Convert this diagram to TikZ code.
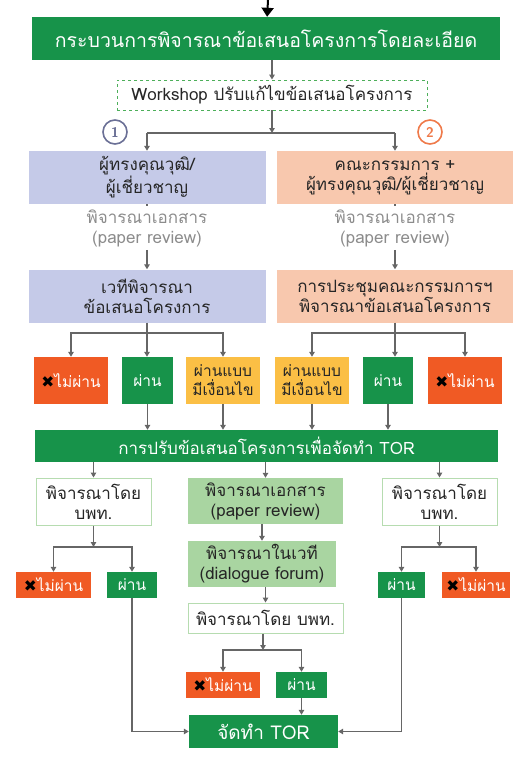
\documentclass[tikz,border=0pt]{standalone}
\usepackage{fontspec}
\usepackage{xcolor}
\usetikzlibrary{arrows.meta}
\newfontfamily\thaifont[Script=Thai]{Loma}
\newfontfamily\symfont{DejaVu Sans}
\definecolor{mygreen}{HTML}{17934A}
\definecolor{lightgreen}{HTML}{A9D5A1}
\definecolor{rimgreen}{HTML}{B6DCB0}
\definecolor{dashgreen}{HTML}{4DAF5A}
\definecolor{lavender}{HTML}{C5CAE8}
\definecolor{peach}{HTML}{F8C8AE}
\definecolor{failred}{HTML}{F05A24}
\definecolor{condyellow}{HTML}{FBBF45}
\definecolor{linegray}{HTML}{666666}
\definecolor{notegray}{HTML}{8C8C8C}
\definecolor{numblue}{HTML}{6B7096}
\definecolor{numorange}{HTML}{EF7A4A}
\newcommand{\nopass}{{\symfont\color{black}✖}ไม่ผ่าน}
\tikzset{>=stealth}
\tikzset{
  box/.style={inner sep=0pt, align=center, font=\thaifont\fontsize{17}{20}\selectfont},
  greenbox/.style={box, fill=mygreen, text=white},
  bluebox/.style={box, fill=lavender, text=black!85, minimum width=237pt, minimum height=53pt},
  peachbox/.style={box, fill=peach, text=black!85, minimum width=236pt, minimum height=53pt},
  paleboxm/.style={box, fill=lightgreen, text=black!85},
  whitebox/.style={box, fill=white, draw=rimgreen, line width=1pt, text=black!85},
  resbox/.style={box, font=\thaifont\fontsize{15.5}{19}\selectfont},
  failbox/.style={resbox, fill=failred, text=white, minimum height=26pt},
  passbox/.style={resbox, fill=mygreen, text=white, minimum height=26pt},
  condbox/.style={resbox, fill=condyellow, text=black!85, minimum width=74pt, minimum height=47pt},
  note/.style={box, text=notegray, inner sep=3pt},
  numcircle/.style={circle, line width=1.6pt, minimum size=24pt, inner sep=0pt, fill=white,
    font=\sffamily\bfseries\fontsize{14}{14}\selectfont},
  link/.style={draw=linegray, line width=1.2pt},
  conn/.style={link, -{Triangle[length=5pt,width=5.5pt]}},
}
\begin{document}
\begin{tikzpicture}[x=1pt,y=-1pt]
\useasboundingbox (0,0) rectangle (529,784);
% top of the process
\coordinate (start) at (268,0);
\node[greenbox, minimum width=468pt, minimum height=43pt, font=\thaifont\fontsize{19.5}{22}\selectfont] (detail) at (266,38.5) {กระบวนการพิจารณาข้อเสนอโครงการโดยละเอียด};
\node[box, draw=dashgreen, dashed, line width=0.9pt, minimum width=310pt, minimum height=30pt, text=black!85] (workshop) at (272,95) {Workshop ปรับแก้ไขข้อเสนอโครงการ};
\coordinate (splitAB) at (272,133);
\node[numcircle, draw=numblue, text=numblue] (numA) at (115,132) {1};
\node[numcircle, draw=numorange, text=numorange] (numB) at (430,132) {2};
% two tracks
\node[bluebox] (expertA) at (147,177.5) {ผู้ทรงคุณวุฒิ/\\ผู้เชี่ยวชาญ};
\node[peachbox] (boardB) at (395,177.5) {คณะกรรมการ +\\ผู้ทรงคุณวุฒิ/ผู้เชี่ยวชาญ};
\node[note] (reviewA) at (147,228) {พิจารณาเอกสาร\\(paper review)};
\node[note] (reviewB) at (395,228) {พิจารณาเอกสาร\\(paper review)};
\node[bluebox] (forumA) at (147,296) {เวทีพิจารณา\\ข้อเสนอโครงการ};
\node[peachbox] (meetB) at (395,296) {การประชุมคณะกรรมการฯ\\พิจารณาข้อเสนอโครงการ};
\coordinate (brA) at (147,333);
\coordinate (brB) at (395,333);
% results of both tracks
\node[failbox, minimum width=74pt, minimum height=47pt] (failA) at (71,380.5) {\nopass};
\node[passbox, minimum width=51pt, minimum height=47pt] (passA) at (147.5,380.5) {ผ่าน};
\node[condbox] (condA) at (223,380.5) {ผ่านแบบ\\มีเงื่อนไข};
\node[condbox] (condB) at (312,380.5) {ผ่านแบบ\\มีเงื่อนไข};
\node[passbox, minimum width=50pt, minimum height=47pt] (passB) at (388,380.5) {ผ่าน};
\node[failbox, minimum width=74pt, minimum height=47pt] (failB) at (465,380.5) {\nopass};
\node[greenbox, minimum width=463pt, minimum height=32pt] (adjust) at (266.5,446) {การปรับข้อเสนอโครงการเพื่อจัดทำ TOR};
% checks before TOR
\node[whitebox, minimum width=115pt, minimum height=47pt] (checkL) at (93.5,501.5) {พิจารณาโดย\\บพท.};
\node[paleboxm, minimum width=155pt, minimum height=46pt] (paperM) at (265.5,501) {พิจารณาเอกสาร\\(paper review)};
\node[whitebox, minimum width=115pt, minimum height=47pt] (checkR) at (439.5,501.5) {พิจารณาโดย\\บพท.};
\node[paleboxm, minimum width=148pt, minimum height=46pt] (forumM) at (262,564) {พิจารณาในเวที\\(dialogue forum)};
\node[whitebox, minimum width=155pt, minimum height=30pt] (pmuM) at (265.5,618) {พิจารณาโดย บพท.};
\coordinate (brL) at (93.5,547);
\coordinate (brR) at (439.5,547);
\coordinate (brM) at (263,650);
\node[failbox, minimum width=75pt] (failL) at (53.5,585) {\nopass};
\node[passbox, minimum width=50pt] (passL) at (132,585) {ผ่าน};
\node[passbox, minimum width=47pt] (passR) at (401.5,585) {ผ่าน};
\node[failbox, minimum width=68pt] (failR) at (476,585) {\nopass};
\node[failbox, minimum width=74pt] (failM) at (223,685) {\nopass};
\node[passbox, minimum width=51pt] (passM) at (301.5,685) {ผ่าน};
\node[greenbox, minimum width=149pt, minimum height=33pt, font=\thaifont\fontsize{19}{21}\selectfont] (final) at (263.5,731.5) {จัดทำ TOR};
% connectors
\draw[line width=2pt, -{Triangle[length=9pt,width=12pt]}] (start) -- (detail);
\draw[conn] (detail.south -| workshop) -- (workshop);
\draw[conn] (workshop) -- (splitAB);
\draw[link] (expertA.north |- splitAB) -- (boardB.north |- splitAB);
\draw[conn] (expertA.north |- splitAB) -- (expertA);
\draw[conn] (boardB.north |- splitAB) -- (boardB);
\draw[link] (expertA) -- (reviewA);
\draw[link] (boardB) -- (reviewB);
\draw[conn] (reviewA) -- (forumA);
\draw[conn] (reviewB) -- (meetB);
\draw[link] (forumA) -- (brA);
\draw[link] (meetB) -- (brB);
\draw[conn] (brA) -| (failA);
\draw[conn] (brA) -- (brA |- passA.north);
\draw[conn] (brA) -| (condA);
\draw[conn] (brB) -| (condB);
\draw[conn] (brB) -- (brB |- passB.north);
\draw[conn] (brB) -| (failB);
\foreach \res in {passA,condA,condB,passB}
  \draw[conn] (\res) -- (\res |- adjust.north);
\foreach \chk in {checkL,paperM,checkR}
  \draw[conn] (adjust.south -| \chk) -- (\chk);
\draw[conn] (checkL) -- (brL);
\draw[conn] (checkR) -- (brR);
\draw[conn] (brL) -| (failL);
\draw[conn] (brL) -| (passL);
\draw[conn] (brR) -| (passR);
\draw[conn] (brR) -| (failR);
\draw[conn] (paperM.south -| forumM) -- (forumM);
\draw[conn] (forumM.south -| pmuM) -- (pmuM);
\draw[conn] (pmuM.south -| brM) -- (brM);
\draw[conn] (brM) -| (failM);
\draw[conn] (brM) -| (passM);
\draw[conn] (passM) -- (passM |- final.north);
\draw[conn] (passL) |- (final);
\draw[conn] (passR) |- (final);
\end{tikzpicture}
\end{document}
